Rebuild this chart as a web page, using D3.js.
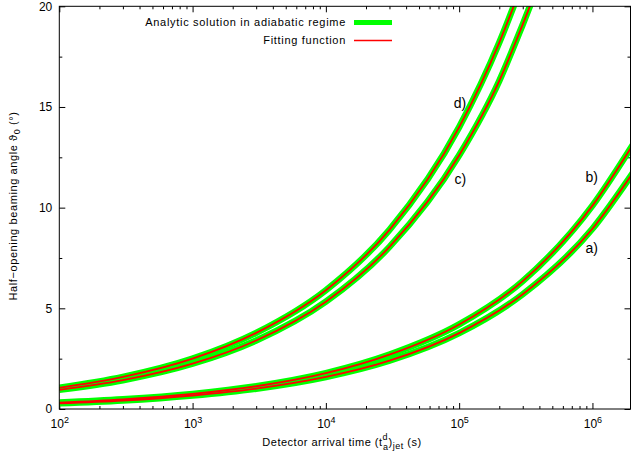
<!DOCTYPE html>
<html><head><meta charset="utf-8">
<script src="https://cdn.jsdelivr.net/npm/d3@7"></script>
<style>
body{margin:0;background:#fff;}
text{font-family:"Liberation Sans",Arial,sans-serif;fill:#000;}
</style></head>
<body><svg id="c" width="631" height="455"></svg>
<script>
// Arrival times (s) at which values were read
const timesAB = [1e2, 3e2, 1e3, 3e3, 1e4, 3e4, 1e5, 3e5, 1e6, 2e6];
const timesCD = [1e2, 3e2, 1e3, 3e3, 1e4, 3e4, 1e5, 2e5, 3e5, 4e5];
// Half-opening angle (deg) series
const seriesA = [0.28, 0.42, 0.67, 1.01, 1.59, 2.4, 3.77, 5.7, 8.95, 11.7];
const seriesB = [0.32, 0.48, 0.75, 1.13, 1.78, 2.7, 4.2, 6.35, 10.1, 13.1];
const seriesC = [0.95, 1.43, 2.25, 3.4, 5.33, 8.05, 12.6, 16.3, 19.1, 21.2];
const seriesD = [1.05, 1.59, 2.5, 3.78, 5.9, 8.9, 14.0, 18.2, 21.2, 23.5];
const curveNames = ["a)", "b)", "c)", "d)"];
const labelAt = [[1.1e6, 8.0], [1.1e6, 11.5], [1.13e5, 11.4], [1.13e5, 15.2]];
const xTicks = [1e2, 1e3, 1e4, 1e5, 1e6];
const yTicks = [0, 5, 10, 15, 20];
const yMinor = [2.5, 7.5, 12.5, 17.5];
const legendItems = ["Analytic solution in adiabatic regime", "Fitting function"];

const svg = d3.select("#c");
const L = 59.3, R = 630.5, T = 6.3, B = 409;
const x = d3.scaleLog().domain([1e2, 1.93e6]).range([L, R]);
const y = d3.scaleLinear().domain([0, 20]).range([B, T]);

const xMinor = [];
for (let e = 2; e <= 6; e++) for (let k = 2; k <= 9; k++) { const v = k * Math.pow(10, e); if (v <= 1.93e6) xMinor.push(v); }

svg.append("defs").append("clipPath").attr("id", "clip")
  .append("rect").attr("x", L).attr("y", T).attr("width", R - L).attr("height", B - T);

// axes
function styleAxis(g){ g.select(".domain").remove(); g.selectAll("line").attr("stroke","#000").attr("stroke-width",1); }
svg.append("g").attr("transform", `translate(0,${B})`)
  .call(d3.axisBottom(x).tickValues(xTicks).tickSize(-6).tickPadding(10).tickFormat(""))
  .call(styleAxis)
  .call(g => g.selectAll(".tick text").each(function(d){
      const t = d3.select(this).text(null).attr("font-size", 12).attr("dy", "0.71em");
      t.append("tspan").text("10");
      t.append("tspan").attr("dy", "-0.45em").attr("font-size", 9).text(Math.round(Math.log10(d)));
  }));
svg.append("g").attr("transform", `translate(0,${B})`)
  .call(d3.axisBottom(x).tickValues(xMinor).tickSize(-3).tickFormat("")).call(styleAxis);
svg.append("g").attr("transform", `translate(0,${T})`)
  .call(d3.axisTop(x).tickValues(xTicks).tickSize(-6).tickFormat("")).call(styleAxis);
svg.append("g").attr("transform", `translate(0,${T})`)
  .call(d3.axisTop(x).tickValues(xMinor).tickSize(-3).tickFormat("")).call(styleAxis);
svg.append("g").attr("transform", `translate(${L},0)`)
  .call(d3.axisLeft(y).tickValues(yTicks).tickSize(-6).tickPadding(7))
  .call(styleAxis).call(g => g.selectAll("text").attr("font-size", 12));
svg.append("g").attr("transform", `translate(${L},0)`)
  .call(d3.axisLeft(y).tickValues(yMinor).tickSize(-3).tickFormat("")).call(styleAxis);
svg.append("g").attr("transform", `translate(${R},0)`)
  .call(d3.axisRight(y).tickValues(yTicks).tickSize(-6).tickFormat("")).call(styleAxis);
svg.append("g").attr("transform", `translate(${R},0)`)
  .call(d3.axisRight(y).tickValues(yMinor).tickSize(-3).tickFormat("")).call(styleAxis);

// curves
const line = d3.line().x(d => x(d[0])).y(d => y(d[1])).curve(d3.curveMonotoneX);
const all = [
  d3.zip(timesAB, seriesA), d3.zip(timesAB, seriesB),
  d3.zip(timesCD, seriesC), d3.zip(timesCD, seriesD)
];
const gc = svg.append("g").attr("clip-path", "url(#clip)");
all.forEach(s => {
  gc.append("path").attr("d", line(s)).attr("fill","none").attr("stroke","#00ff00").attr("stroke-width",6.5);
});
all.forEach(s => {
  gc.append("path").attr("d", line(s)).attr("fill","none").attr("stroke","#ff0000").attr("stroke-width",1.8);
});

// frame
svg.append("rect").attr("x", L).attr("y", T).attr("width", R - L).attr("height", B - T)
  .attr("fill","none").attr("stroke","#000").attr("stroke-width",1);

// curve labels
curveNames.forEach((n, i) => {
  svg.append("text").attr("x", x(labelAt[i][0])).attr("y", y(labelAt[i][1])).attr("dy","0.35em")
    .attr("text-anchor","end").attr("font-size", 14).text(n);
});

// legend
const legY = [22.5, 40.5];
legendItems.forEach((n, i) => {
  svg.append("text").attr("x", 346).attr("y", legY[i]).attr("dy","0.35em")
    .attr("text-anchor","end").attr("font-size", 11).attr("letter-spacing", 0.7).text(n);
  svg.append("line").attr("x1", 354).attr("x2", 392).attr("y1", legY[i]).attr("y2", legY[i])
    .attr("stroke", i === 0 ? "#00ff00" : "#ff0000").attr("stroke-width", i === 0 ? 5 : 1.5);
});

// axis titles
const xt = svg.append("text").attr("x", 342).attr("y", 446).attr("text-anchor","middle")
  .attr("font-size", 11).attr("letter-spacing", 0.5);
xt.append("tspan").text("Detector arrival time (t");
xt.append("tspan").attr("dy", -6).attr("font-size", 9).text("d");
xt.append("tspan").attr("dx", -5).attr("dy", 10).attr("font-size", 9).text("a");
xt.append("tspan").attr("dy", -4).text(")");
xt.append("tspan").attr("dy", 3).attr("font-size", 9).text("jet");
xt.append("tspan").attr("dy", -3).text(" (s)");

const yt = svg.append("text").attr("transform", "translate(17,206) rotate(-90)")
  .attr("text-anchor","middle").attr("font-size", 11).attr("letter-spacing", 0.6);
yt.append("tspan").text("Half\u2212opening beaming angle \u03D1");
yt.append("tspan").attr("dy", 3).attr("font-size", 9).text("0");
yt.append("tspan").attr("dy", -3).text(" (\u00B0)");
</script></body></html>
